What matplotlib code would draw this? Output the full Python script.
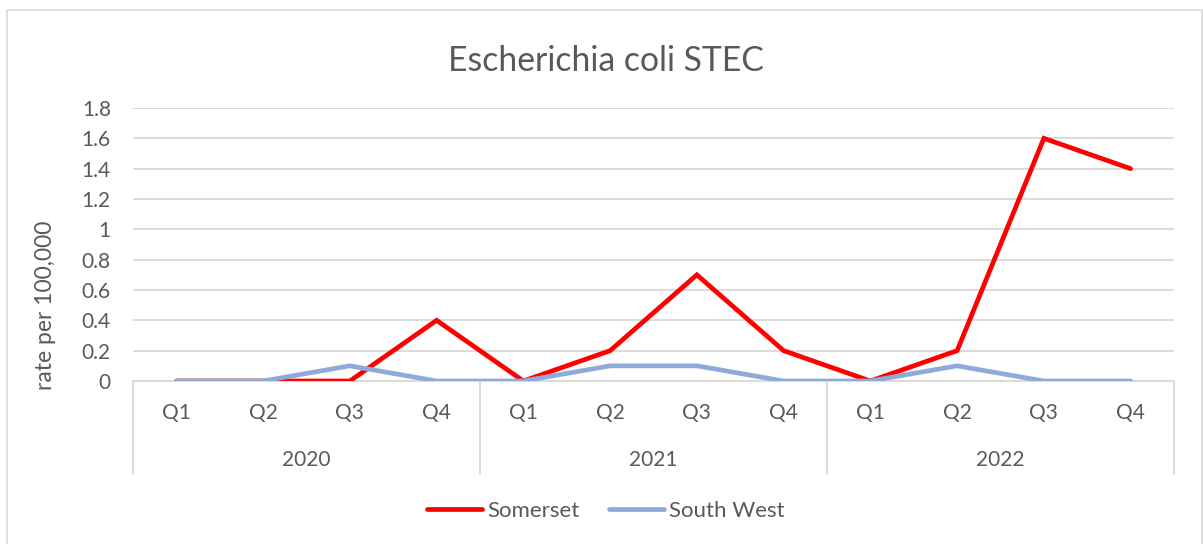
import numpy as np
import matplotlib.pyplot as plt
from matplotlib.patches import Rectangle

# data
quarters = ["Q1", "Q2", "Q3", "Q4"] * 3
years = ["2020", "2021", "2022"]
somerset = [0, 0, 0, 0.4, 0, 0.2, 0.7, 0.2, 0, 0.2, 1.6, 1.4]
south_west = [0, 0, 0.1, 0, 0, 0.1, 0.1, 0, 0, 0.1, 0, 0]
y_ticks = [0, 0.2, 0.4, 0.6, 0.8, 1, 1.2, 1.4, 1.6, 1.8]
y_labels = ["0", "0.2", "0.4", "0.6", "0.8", "1", "1.2", "1.4", "1.6", "1.8"]

plt.rcParams['font.family'] = ['Lato', 'DejaVu Sans']
text_col = '#595959'
grid_col = '#d9d9d9'
W, H = 1203, 544

fig = plt.figure(figsize=(W / 100, H / 100), dpi=100)
fig.patches.append(Rectangle((7 / W, -0.01), 1195 / W, 1 - 10 / H + 0.01,
                             transform=fig.transFigure, fill=False,
                             edgecolor=grid_col, linewidth=1.2))

ax = fig.add_axes([133 / W, 1 - 381 / H, (1174 - 133) / W, 273 / H])
x = np.arange(len(quarters))
ax.plot(x, somerset, color='#ff0000', lw=3.4, solid_capstyle='round',
        solid_joinstyle='miter', label='Somerset', zorder=3)
ax.plot(x, south_west, color='#8eaadb', lw=3.4, solid_capstyle='round',
        solid_joinstyle='miter', label='South West', zorder=4)

ax.set_xlim(-0.5, len(quarters) - 0.5)
ax.set_ylim(0, 1.8)
ax.set_yticks(y_ticks)
ax.set_yticklabels(y_labels)
ax.yaxis.grid(True, color=grid_col, lw=1.3)
ax.set_axisbelow(True)
for s in ['top', 'right', 'left']:
    ax.spines[s].set_visible(False)
ax.spines['bottom'].set_color(grid_col)
ax.spines['bottom'].set_linewidth(1.3)
ax.tick_params(axis='y', length=0, pad=16, labelsize=15, labelcolor=text_col)
ax.set_xticks([])

# two-level category axis
trans = ax.get_xaxis_transform()
for i, q in enumerate(quarters):
    ax.text(i, -0.117, q, transform=trans, ha='center', va='center',
            fontsize=15, color=text_col)
for j, yr in enumerate(years):
    ax.text(4 * j + 1.5, -0.289, yr, transform=trans, ha='center', va='center',
            fontsize=15, color=text_col)
for b in [-0.5, 3.5, 7.5, 11.5]:
    ax.plot([b, b], [0, -0.34], transform=trans, color=grid_col, lw=1.3,
            clip_on=False)

fig.text(46 / W, 1 - 305 / H, "rate per 100,000", rotation=90, ha='center',
         va='center', fontsize=16.5, color=text_col)

fig.text(606 / W, 1 - 71 / H, "Escherichia coli STEC", ha='center',
         va='baseline', fontsize=24.3, color=text_col)

fig.legend(loc='center', bbox_to_anchor=(606 / W, 1 - 511 / H), ncol=2,
           frameon=False, fontsize=16, handlelength=2.45, handletextpad=0.25,
           columnspacing=1.35, labelcolor=text_col)

fig.savefig("out.png", dpi=100)
